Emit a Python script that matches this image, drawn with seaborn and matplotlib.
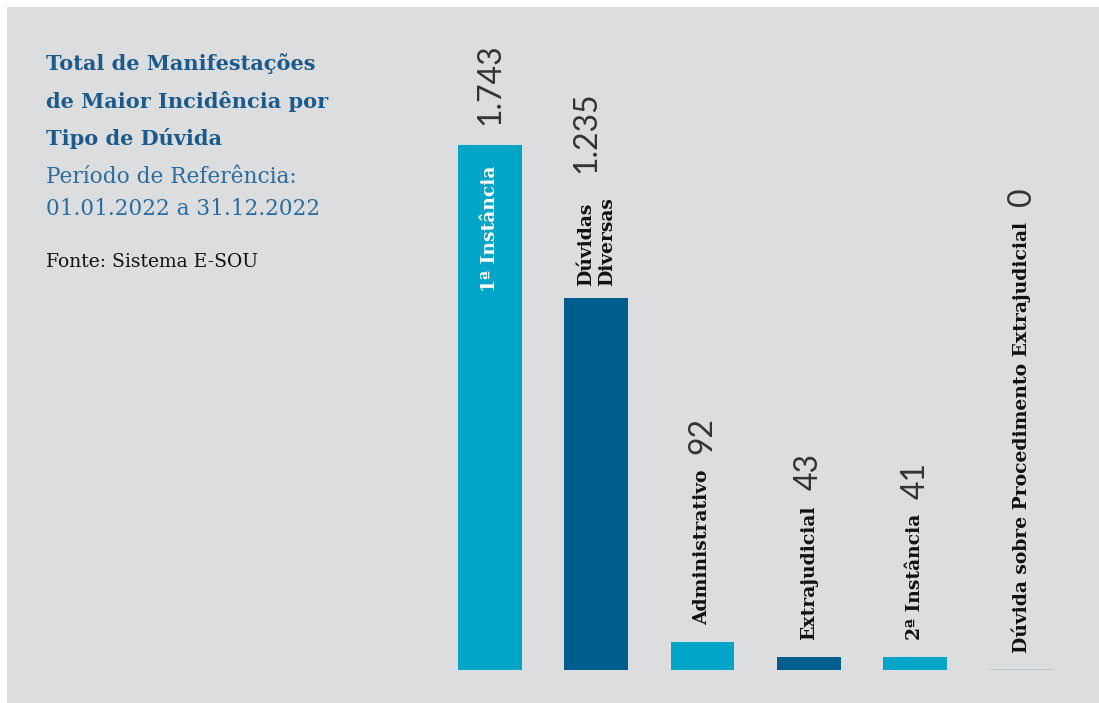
import matplotlib
matplotlib.use("Agg")
import matplotlib.pyplot as plt
from matplotlib.patches import Rectangle
import seaborn as sns
import pandas as pd

# Data
categories = [
    "1ª Instância",
    "Dúvidas\nDiversas",
    "Administrativo",
    "Extrajudicial",
    "2ª Instância",
    "Dúvida sobre Procedimento Extrajudicial",
]
values = [1743, 1235, 92, 43, 41, 0]
value_labels = ["1.743", "1.235", "92", "43", "41", "0"]

title_lines = ["Total de Manifestações", "de Maior Incidência por", "Tipo de Dúvida"]
period_lines = ["Período de Referência:", "01.01.2022 a 31.12.2022"]
source_text = "Fonte: Sistema E-SOU"

LIGHT = "#00a5c8"
DARK = "#005e8f"
PANEL = "#dcdddf"
TITLE_C = "#1b5a8b"
SUB_C = "#2c6c9e"
NUM_C = "#333333"

sns.set_theme(style="white")
SERIF = ["DejaVu Serif"]
SANS = ["Lato", "DejaVu Sans"]

W, H = 1099, 703
fig = plt.figure(figsize=(W / 100, H / 100), dpi=100, facecolor="white")

# Grey panel behind everything
fig.patches.append(Rectangle((7 / W, 0), 1 - 7 / W, 1 - 7 / H,
                             transform=fig.transFigure, facecolor=PANEL,
                             edgecolor="none", zorder=-10))

# Axes placed so each category slot is ~106 px wide, baseline at y=669
slot = 106.3
left_px = 490 - slot / 2
base_px = 669.5
top_px = 10
ax = fig.add_axes([left_px / W, 1 - base_px / H, 6 * slot / W, (base_px - top_px) / H])
ax.set_facecolor("none")
ax.set_zorder(5)

df = pd.DataFrame({"cat": categories, "val": values})
palette = [LIGHT, DARK, LIGHT, DARK, LIGHT, LIGHT]
sns.barplot(data=df, x="cat", y="val", hue="cat", palette=palette,
            width=0.6, legend=False, ax=ax, saturation=1, linewidth=0)
px_per_unit = 525 / 1743
ax.set_ylim(0, (base_px - top_px) / px_per_unit)
ax.set_xlim(-0.5, 5.5)
ax.axis("off")

patches = ax.patches
# Thin line for the zero bar
for p, v in zip(patches, values):
    if v == 0:
        p.set_edgecolor("#b3bfcb")
        p.set_linewidth(1.2)
    else:
        p.set_edgecolor("none")

lab_kw = dict(fontfamily=SERIF, fontweight="bold", fontsize=13.5, rotation=90,
              rotation_mode="anchor")
num_kw = dict(fontfamily=SANS, fontweight="normal", fontsize=23, color=NUM_C,
              rotation=90, rotation_mode="anchor", ha="left", va="center")

for i, (p, cat, v, vl) in enumerate(zip(patches, categories, values, value_labels)):
    xc = p.get_x() + p.get_width() / 2
    top = p.get_height()
    if i == 0:
        # label inside the tall bar, value above it
        ax.annotate(cat, (xc, top), xytext=(0, -15), textcoords="offset points",
                    ha="right", va="center", color="white", **lab_kw)
        ax.annotate(vl, (xc, top), xytext=(0, 14), textcoords="offset points", **num_kw)
    else:
        lab = ax.annotate(cat, (xc, top), xytext=(0, 8 if i == 1 else 12),
                          textcoords="offset points", ha="left", va="center",
                          color="#111111", multialignment="left", **lab_kw)
        dx, gap = (-7, 18) if i == 1 else (0, 11)
        ax.annotate(vl, (0.5, 1), xycoords=lab, xytext=(dx, gap),
                    textcoords="offset points", **num_kw)

# Titles, one line at a time at fixed baselines
for line, y in zip(title_lines, [70, 107.5, 145]):
    fig.text(46 / W, 1 - y / H, line, fontfamily=SERIF, fontweight="bold",
             fontsize=15, color=TITLE_C, va="baseline", ha="left")
for line, y in zip(period_lines, [183, 215]):
    fig.text(46 / W, 1 - y / H, line, fontfamily=SERIF, fontsize=15.6,
             color=SUB_C, va="baseline", ha="left")
fig.text(46 / W, 1 - 267 / H, source_text, fontfamily=SERIF, fontsize=13.5,
         color="#111111", va="baseline", ha="left")

fig.savefig("out.png", dpi=100, facecolor="white")
